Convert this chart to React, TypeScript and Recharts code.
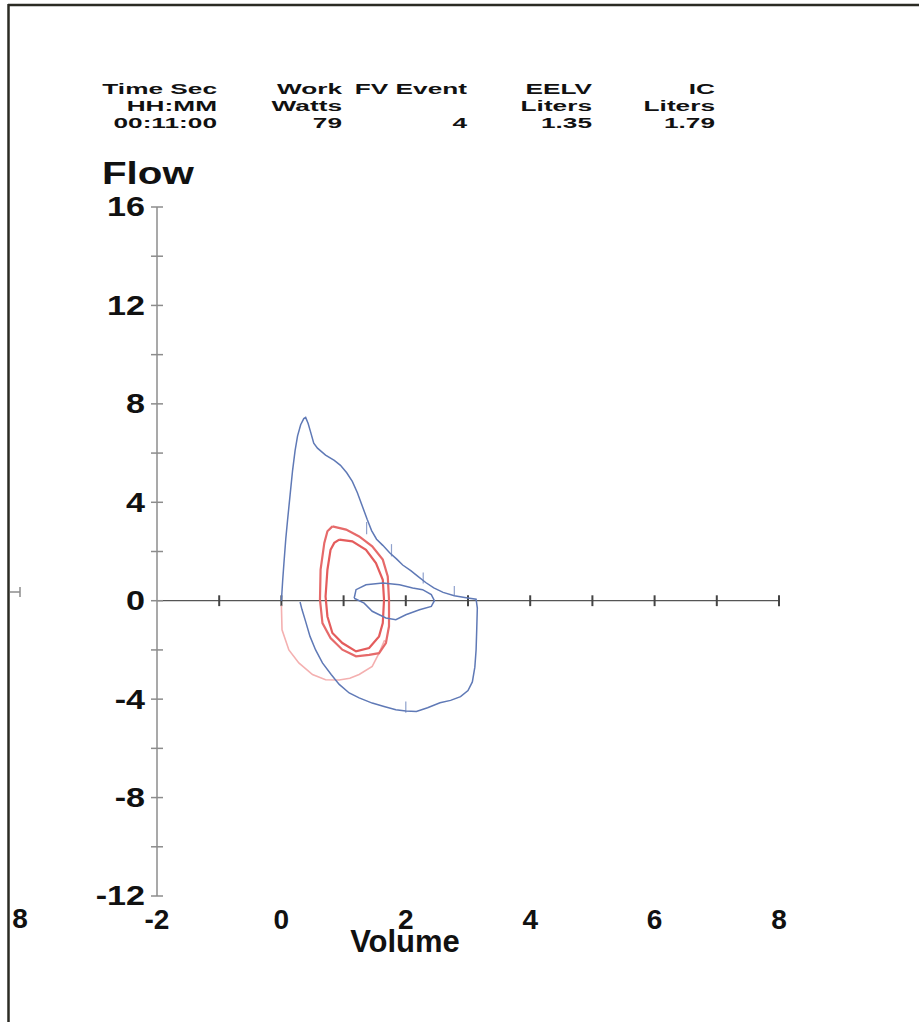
import React from "react";
import { LineChart, Line, XAxis, YAxis, ReferenceLine } from "recharts";

// axis ticks
const volumeTicks = [-2, -1, 0, 1, 2, 3, 4, 5, 6, 7, 8];
const volumeLabels = [-2, 0, 2, 4, 6, 8];
const flowTicks = [-12, -10, -8, -6, -4, -2, 0, 2, 4, 6, 8, 10, 12, 14, 16];
const flowLabels = [-12, -8, -4, 0, 4, 8, 12, 16];

// header table
const headerTitles = ["Time Sec", "Work", "FV Event", "EELV", "IC"];
const headerUnits = ["HH:MM", "Watts", "", "Liters", "Liters"];
const headerValues = ["00:11:00", "79", "4", "1.35", "1.79"];

// exercise flow-volume loop (blue)
const exerciseLoop = [
  { v: 0.0, f: 0.0 }, { v: 0.02, f: 0.8 }, { v: 0.04, f: 1.5 }, { v: 0.07, f: 2.5 },
  { v: 0.1, f: 3.3 }, { v: 0.14, f: 4.3 }, { v: 0.18, f: 5.3 }, { v: 0.22, f: 6.1 },
  { v: 0.26, f: 6.7 }, { v: 0.31, f: 7.15 }, { v: 0.36, f: 7.4 }, { v: 0.39, f: 7.45 },
  { v: 0.43, f: 7.2 }, { v: 0.47, f: 6.85 }, { v: 0.52, f: 6.4 }, { v: 0.58, f: 6.2 },
  { v: 0.71, f: 5.92 }, { v: 0.85, f: 5.7 }, { v: 0.95, f: 5.5 }, { v: 1.05, f: 5.2 },
  { v: 1.14, f: 4.85 }, { v: 1.22, f: 4.4 }, { v: 1.3, f: 3.85 }, { v: 1.38, f: 3.3 },
  { v: 1.45, f: 2.85 }, { v: 1.53, f: 2.5 }, { v: 1.63, f: 2.25 }, { v: 1.74, f: 1.95 },
  { v: 1.85, f: 1.7 }, { v: 1.95, f: 1.45 }, { v: 2.08, f: 1.22 }, { v: 2.2, f: 0.98 },
  { v: 2.32, f: 0.74 }, { v: 2.45, f: 0.52 }, { v: 2.6, f: 0.34 }, { v: 2.78, f: 0.2 },
  { v: 2.97, f: 0.12 }, { v: 3.13, f: 0.06 }, { v: 3.15, f: -0.3 }, { v: 3.14, f: -1.2 },
  { v: 3.13, f: -2.0 }, { v: 3.11, f: -2.7 }, { v: 3.07, f: -3.3 }, { v: 3.0, f: -3.65 },
  { v: 2.88, f: -3.9 }, { v: 2.72, f: -4.05 }, { v: 2.55, f: -4.15 }, { v: 2.35, f: -4.35 },
  { v: 2.17, f: -4.5 }, { v: 2.0, f: -4.48 }, { v: 1.84, f: -4.43 }, { v: 1.65, f: -4.3 },
  { v: 1.46, f: -4.16 }, { v: 1.25, f: -3.95 }, { v: 1.09, f: -3.75 }, { v: 0.93, f: -3.4 },
  { v: 0.8, f: -3.0 }, { v: 0.66, f: -2.53 }, { v: 0.55, f: -2.0 }, { v: 0.46, f: -1.45 },
  { v: 0.39, f: -0.85 }, { v: 0.33, f: -0.35 }, { v: 0.3, f: -0.05 },
];

// resting loop (small blue)
const restLoop = [
  { v: 1.17, f: 0.1 }, { v: 1.2, f: 0.45 }, { v: 1.36, f: 0.65 }, { v: 1.63, f: 0.72 },
  { v: 1.9, f: 0.65 }, { v: 2.11, f: 0.52 }, { v: 2.27, f: 0.45 }, { v: 2.41, f: 0.25 },
  { v: 2.46, f: 0.0 }, { v: 2.41, f: -0.23 }, { v: 2.22, f: -0.37 }, { v: 2.0, f: -0.57 },
  { v: 1.84, f: -0.77 }, { v: 1.68, f: -0.7 }, { v: 1.46, f: -0.43 }, { v: 1.33, f: -0.1 },
  { v: 1.17, f: 0.1 },
];

// tidal loops (red)
const tidalOuter = [
  { v: 0.82, f: 3.02 }, { v: 1.04, f: 2.89 }, { v: 1.25, f: 2.61 }, { v: 1.46, f: 2.21 },
  { v: 1.63, f: 1.67 }, { v: 1.71, f: 0.99 }, { v: 1.73, f: 0.04 }, { v: 1.73, f: -1.04 },
  { v: 1.68, f: -1.72 }, { v: 1.57, f: -2.13 }, { v: 1.41, f: -2.2 }, { v: 1.2, f: -2.26 },
  { v: 0.98, f: -1.99 }, { v: 0.79, f: -1.52 }, { v: 0.66, f: -0.91 }, { v: 0.62, f: 0.04 },
  { v: 0.63, f: 1.26 }, { v: 0.69, f: 2.35 }, { v: 0.74, f: 2.82 }, { v: 0.82, f: 3.02 },
];
const tidalInner = [
  { v: 0.93, f: 2.48 }, { v: 1.14, f: 2.41 }, { v: 1.36, f: 2.07 }, { v: 1.52, f: 1.53 },
  { v: 1.63, f: 0.85 }, { v: 1.65, f: 0.04 }, { v: 1.63, f: -0.91 }, { v: 1.57, f: -1.45 },
  { v: 1.41, f: -1.92 }, { v: 1.2, f: -2.06 }, { v: 0.98, f: -1.72 }, { v: 0.82, f: -1.31 },
  { v: 0.74, f: -0.64 }, { v: 0.71, f: 0.17 }, { v: 0.74, f: 1.26 }, { v: 0.79, f: 2.07 },
  { v: 0.85, f: 2.35 }, { v: 0.93, f: 2.48 },
];
const tidalArc = [
  { v: 0.0, f: -0.2 }, { v: 0.01, f: -1.18 }, { v: 0.12, f: -2.0 }, { v: 0.28, f: -2.53 },
  { v: 0.5, f: -3.0 }, { v: 0.71, f: -3.21 }, { v: 0.93, f: -3.22 }, { v: 1.1, f: -3.15 },
  { v: 1.25, f: -3.0 }, { v: 1.46, f: -2.67 }, { v: 1.57, f: -2.13 }, { v: 1.66, f: -1.6 },
];

// small time marks on the exercise loop: [volume, flow from, flow to]
const timeMarks = [
  [1.37, 2.7, 3.2], [1.77, 1.8, 2.3], [2.28, 0.7, 1.15], [2.78, 0.2, 0.6], [2.0, -4.55, -4.1],
];

const W = 919;
const H = 1022;
const axisGray = "#8c8c8c";
const blue = "#5f79b6";
const font = "'Liberation Sans', Arial, sans-serif";
const headerRight = [217, 342, 467, 592, 715];

const FlowTick = (props: any) => {
  const { x, y, payload } = props;
  const show = flowLabels.includes(payload.value);
  return (
    <g>
      <line x1={x - 4} x2={x + 8} y1={y} y2={y} stroke={axisGray} strokeWidth={1.5} />
      {show && (
        <g transform={`translate(${x - 10},${y}) scale(1.22,1)`}>
          <text x={0} y={0} textAnchor="end" dominantBaseline="central"
            fontFamily={font} fontWeight="bold" fontSize={28} fill="#111">
            {payload.value}
          </text>
        </g>
      )}
    </g>
  );
};

const VolumeTick = (props: any) => {
  const { x, y, payload } = props;
  if (!volumeLabels.includes(payload.value)) return <g />;
  return (
    <text x={x} y={y + 21} textAnchor="middle" dominantBaseline="central"
      fontFamily={font} fontWeight="bold" fontSize={28} fill="#111">
      {payload.value}
    </text>
  );
};

export default function App() {
  return (
    <div style={{ position: "absolute", left: 0, top: 0, width: W, height: H, background: "#fff" }}>
      <LineChart width={W} height={H} margin={{ top: 207, left: 97, right: 140, bottom: 96 }}>
        <XAxis type="number" dataKey="v" domain={[-2, 8]} ticks={volumeTicks} interval={0}
          axisLine={false} tickLine={false} tickSize={0} height={30} tick={<VolumeTick />}
          allowDataOverflow />
        <YAxis type="number" dataKey="f" domain={[-12, 16]} ticks={flowTicks} interval={0}
          axisLine={{ stroke: axisGray, strokeWidth: 1.5 }} tickLine={false} tickSize={0}
          width={60} tick={<FlowTick />} allowDataOverflow />
        <ReferenceLine y={0} stroke="#555" strokeWidth={1.3} />
        {volumeTicks.slice(1).map((t) => (
          <ReferenceLine key={t} segment={[{ x: t, y: -0.22 }, { x: t, y: 0.22 }]}
            stroke="#444" strokeWidth={2} />
        ))}
        {timeMarks.map(([v, a, b], i) => (
          <ReferenceLine key={`m${i}`} segment={[{ x: v, y: a }, { x: v, y: b }]}
            stroke={blue} strokeWidth={1.2} strokeOpacity={0.7} />
        ))}
        <Line data={tidalArc} dataKey="f" type="linear" stroke="#f4b0b0" strokeWidth={1.6}
          dot={false} isAnimationActive={false} />
        <Line data={tidalOuter} dataKey="f" type="linear" stroke="#e66a6a" strokeWidth={2.2}
          dot={false} isAnimationActive={false} />
        <Line data={tidalInner} dataKey="f" type="linear" stroke="#e45c5c" strokeWidth={2.2}
          dot={false} isAnimationActive={false} />
        <Line data={exerciseLoop} dataKey="f" type="linear" stroke={blue} strokeWidth={1.5}
          dot={false} isAnimationActive={false} />
        <Line data={restLoop} dataKey="f" type="linear" stroke={blue} strokeWidth={1.5}
          dot={false} isAnimationActive={false} />
      </LineChart>
      <svg width={W} height={H} style={{ position: "absolute", left: 0, top: 0, pointerEvents: "none" }}>
        <line x1={8} y1={5} x2={W} y2={5} stroke="#2b2b24" strokeWidth={2.5} />
        <line x1={8.5} y1={4} x2={8.5} y2={H} stroke="#2b2b24" strokeWidth={2.5} />
        <line x1={10} y1={592} x2={20} y2={592} stroke={axisGray} strokeWidth={1.5} />
        <line x1={20} y1={587} x2={20} y2={597} stroke={axisGray} strokeWidth={1.5} />
        <text x={20} y={918} textAnchor="middle" dominantBaseline="central"
          fontFamily={font} fontWeight="bold" fontSize={28} fill="#111">8</text>
        {headerTitles.map((t, i) => (
          <g key={t} transform={`translate(${headerRight[i]},0) scale(1.75,1)`}
            fontFamily={font} fontWeight="bold" fontSize={15} fill="#111" textAnchor="end">
            <text x={0} y={94}>{t}</text>
            <text x={0} y={111}>{headerUnits[i]}</text>
            <text x={0} y={128}>{headerValues[i]}</text>
          </g>
        ))}
        <g transform="translate(102,0) scale(1.3,1)">
          <text x={0} y={184} fontFamily={font} fontWeight="bold" fontSize={31} fill="#111">Flow</text>
        </g>
        <text x={405} y={952} textAnchor="middle" fontFamily={font} fontWeight="bold" fontSize={31}
          fill="#111">Volume</text>
      </svg>
    </div>
  );
}
